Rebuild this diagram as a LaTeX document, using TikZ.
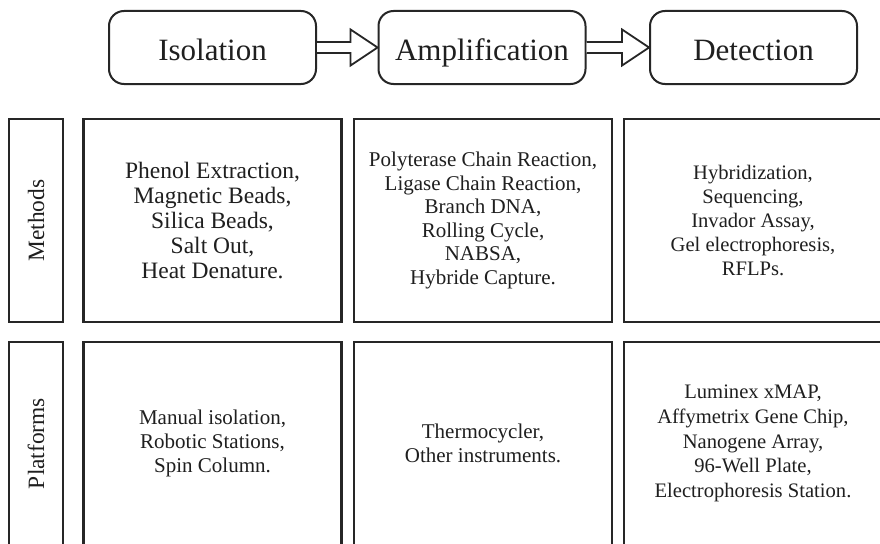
\documentclass[tikz,border=0pt]{standalone}
\usepackage{fontspec}
\setmainfont{Liberation Serif}
\usetikzlibrary{calc}
\tikzset{
  head/.style={draw=black!85, line width=2pt, rounded corners=15pt, minimum width=207pt, minimum height=73pt, inner sep=0pt, text height=29pt, text depth=3pt, text=black!88, font=\fontsize{31}{34}\selectfont},
  cell/.style={draw=black!85, line width=2.4pt, minimum width=258pt, minimum height=203pt, inner sep=0pt, align=center, text=black!88, font=\fontsize{21}{23.8}\selectfont},
  rowlabel/.style={draw=black!85, line width=2.4pt, minimum width=54pt, minimum height=203pt, inner sep=0pt, text=black!88, font=\fontsize{23.4}{26}\selectfont},
  blockarrow/.style={draw=black!85, line width=1.8pt, fill=white, line join=miter}
}
\begin{document}
\begin{tikzpicture}[x=1pt,y=-1pt]
\useasboundingbox (0,0) rectangle (880,543);
\fill[white] (0,0) rectangle (880,543);
\clip (0,0) rectangle (880,543);
% header
\node[head] (iso) at (212.5,47.5) {Isolation};
\node[head] (amp) at (482,47.5) {Amplification};
\node[head] (det) at (753.5,47.5) {Detection};
% arrows
\draw[blockarrow] ($(iso.east)+(0,-5.5)$) -- ($(amp.west)+(-27,-5.5)$) -- ($(amp.west)+(-27,-18)$) -- (amp.west) -- ($(amp.west)+(-27,18)$) -- ($(amp.west)+(-27,5.5)$) -- ($(iso.east)+(0,5.5)$);
\draw[blockarrow] ($(amp.east)+(0,-5.5)$) -- ($(det.west)+(-27,-5.5)$) -- ($(det.west)+(-27,-18)$) -- (det.west) -- ($(det.west)+(-27,18)$) -- ($(det.west)+(-27,5.5)$) -- ($(amp.east)+(0,5.5)$);
% row labels
\node[rowlabel] (lm) at (36,220.5) {\rotatebox{90}{Methods}};
\node[rowlabel] (lp) at (36,443.5) {\rotatebox{90}{Platforms}};
% methods row
\node[cell, font=\fontsize{23.5}{24.8}\selectfont] (m1) at (212.5,220.5) {Phenol Extraction,\\Magnetic Beads,\\Silica Beads,\\Salt Out,\\Heat Denature.};
\node[cell, font=\fontsize{21}{23.5}\selectfont] (m2) at (483,220.5) {Polyterase Chain Reaction,\\Ligase Chain Reaction,\\Branch DNA,\\Rolling Cycle,\\NABSA,\\Hybride Capture.};
\node[cell, font=\fontsize{20.6}{24.2}\selectfont] (m3) at (753,220.5) {Hybridization,\\Sequencing,\\Invador Assay,\\Gel electrophoresis,\\RFLPs.};
% platforms row
\node[cell] (p1) at (212.5,443.5) {Manual isolation,\\Robotic Stations,\\Spin Column.};
\node[cell] (p2) at (483,443.5) {Thermocycler,\\Other instruments.};
\node[cell, font=\fontsize{20.6}{24.8}\selectfont] (p3) at (753,443.5) {Luminex xMAP,\\Affymetrix Gene Chip,\\Nanogene Array,\\96-Well Plate,\\Electrophoresis Station.};
\end{tikzpicture}
\end{document}
